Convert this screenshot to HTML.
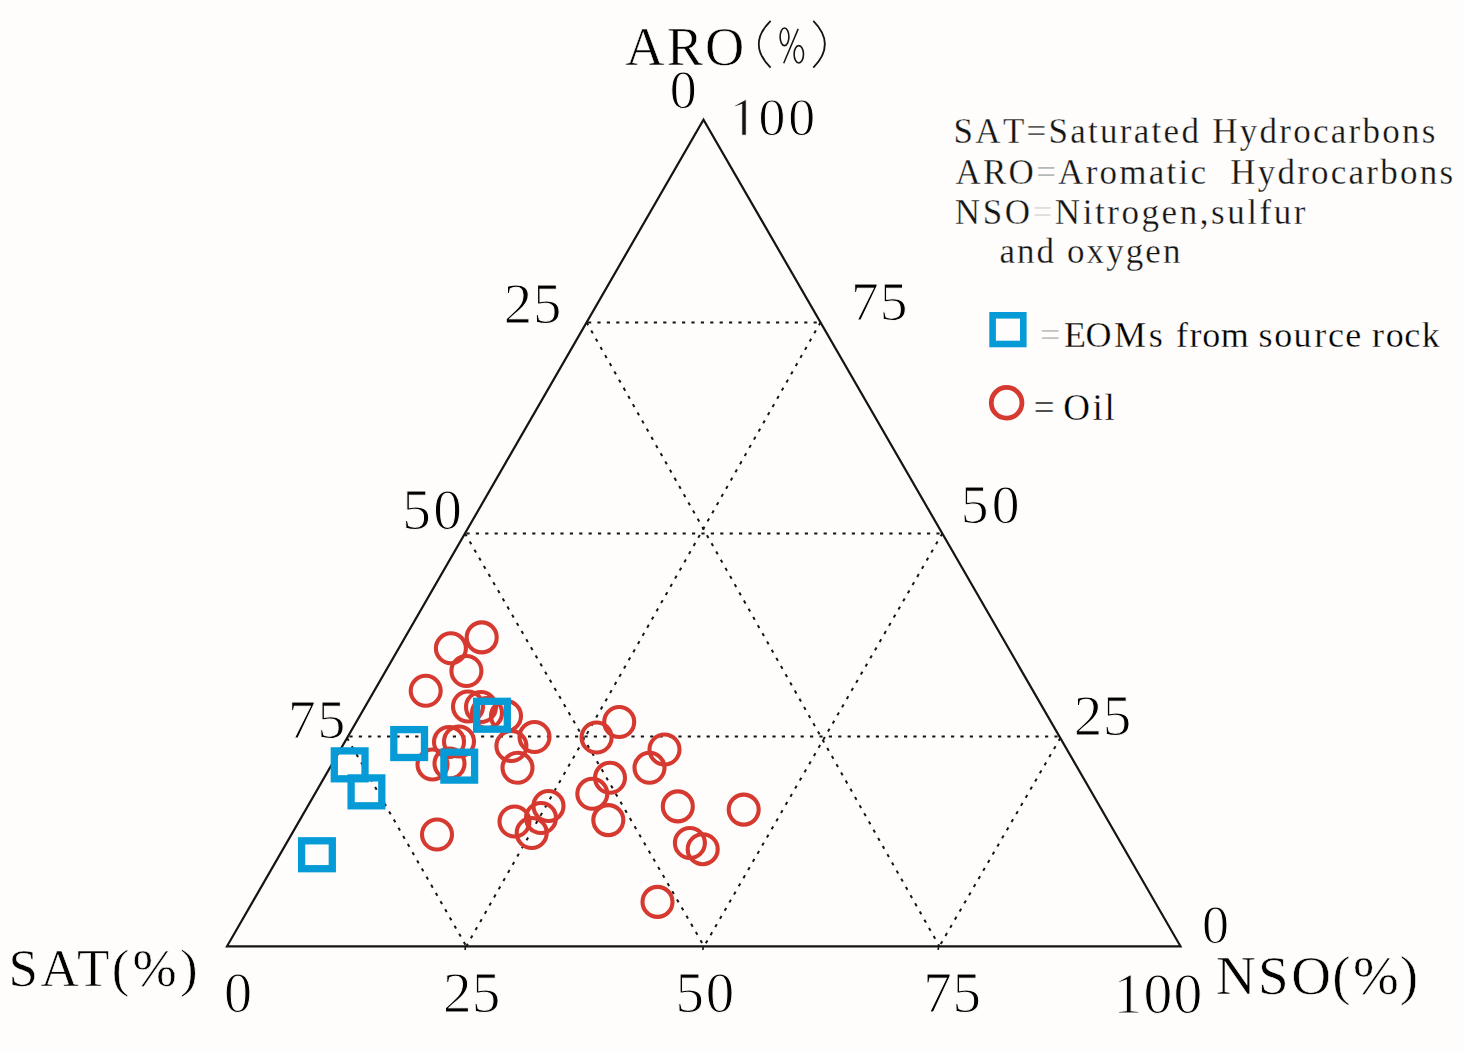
<!DOCTYPE html>
<html><head><meta charset="utf-8"><title>Ternary diagram</title>
<style>
html,body{margin:0;padding:0;background:#fefdfb;}
svg{display:block;}
text{font-family:"Liberation Serif",serif;font-kerning:none;white-space:pre;stroke:#fefdfb;stroke-width:1px;}
</style></head>
<body>
<svg width="1464" height="1052" viewBox="0 0 1464 1052">
<rect width="1464" height="1052" fill="#fefdfb"/>
<line x1="588.0" y1="322.6" x2="819.1" y2="322.6" stroke="#141414" stroke-width="2.0" stroke-dasharray="3.2 6.2" fill="none"/>
<line x1="466.4" y1="533.6" x2="940.9" y2="533.6" stroke="#141414" stroke-width="2.0" stroke-dasharray="3.2 6.2" fill="none"/>
<line x1="349.4" y1="736.6" x2="1058.0" y2="736.6" stroke="#141414" stroke-width="2.0" stroke-dasharray="3.2 6.2" fill="none"/>
<line x1="586.6" y1="322.4" x2="939.4" y2="946.3" stroke="#141414" stroke-width="2.0" stroke-dasharray="3.2 6.2" fill="none"/>
<line x1="465.0" y1="533.4" x2="704.1" y2="946.3" stroke="#141414" stroke-width="2.0" stroke-dasharray="3.2 6.2" fill="none"/>
<line x1="347.1" y1="738.0" x2="466.3" y2="946.3" stroke="#141414" stroke-width="2.0" stroke-dasharray="3.2 6.2" fill="none"/>
<line x1="820.5" y1="322.4" x2="466.3" y2="946.3" stroke="#141414" stroke-width="2.0" stroke-dasharray="3.2 6.2" fill="none"/>
<line x1="942.3" y1="533.4" x2="704.1" y2="946.3" stroke="#141414" stroke-width="2.0" stroke-dasharray="3.2 6.2" fill="none"/>
<line x1="1060.3" y1="738.0" x2="939.4" y2="946.3" stroke="#141414" stroke-width="2.0" stroke-dasharray="3.2 6.2" fill="none"/>
<line x1="465.5" y1="946" x2="465.1" y2="950" stroke="#141414" stroke-width="1.6"/>
<line x1="703.3" y1="946" x2="702.9" y2="950" stroke="#141414" stroke-width="1.6"/>
<line x1="938.6" y1="946" x2="938.2" y2="950" stroke="#141414" stroke-width="1.6"/>
<polygon points="227.0,946.3 1180.5,946.3 703.5,119.6" fill="none" stroke="#141414" stroke-width="2.2" stroke-linejoin="miter"/>
<circle cx="481.7" cy="637.4" r="15.0" fill="none" stroke="#d5392f" stroke-width="4.1"/>
<circle cx="450.9" cy="648.3" r="15.0" fill="none" stroke="#d5392f" stroke-width="4.1"/>
<circle cx="466.4" cy="671.0" r="15.0" fill="none" stroke="#d5392f" stroke-width="4.1"/>
<circle cx="425.7" cy="690.8" r="15.0" fill="none" stroke="#d5392f" stroke-width="4.1"/>
<circle cx="468.0" cy="706.5" r="15.0" fill="none" stroke="#d5392f" stroke-width="4.1"/>
<circle cx="481.0" cy="707.0" r="15.0" fill="none" stroke="#d5392f" stroke-width="4.1"/>
<circle cx="506.0" cy="716.0" r="15.0" fill="none" stroke="#d5392f" stroke-width="4.1"/>
<circle cx="534.5" cy="737.0" r="15.0" fill="none" stroke="#d5392f" stroke-width="4.1"/>
<circle cx="511.4" cy="746.0" r="15.0" fill="none" stroke="#d5392f" stroke-width="4.1"/>
<circle cx="517.5" cy="767.8" r="15.0" fill="none" stroke="#d5392f" stroke-width="4.1"/>
<circle cx="449.0" cy="742.0" r="15.0" fill="none" stroke="#d5392f" stroke-width="4.1"/>
<circle cx="459.0" cy="741.5" r="15.0" fill="none" stroke="#d5392f" stroke-width="4.1"/>
<circle cx="432.5" cy="764.5" r="15.0" fill="none" stroke="#d5392f" stroke-width="4.1"/>
<circle cx="449.5" cy="763.5" r="15.0" fill="none" stroke="#d5392f" stroke-width="4.1"/>
<circle cx="437.0" cy="834.5" r="15.0" fill="none" stroke="#d5392f" stroke-width="4.1"/>
<circle cx="514.5" cy="821.5" r="15.0" fill="none" stroke="#d5392f" stroke-width="4.1"/>
<circle cx="531.7" cy="833.0" r="15.0" fill="none" stroke="#d5392f" stroke-width="4.1"/>
<circle cx="541.0" cy="818.0" r="15.0" fill="none" stroke="#d5392f" stroke-width="4.1"/>
<circle cx="548.5" cy="806.0" r="15.0" fill="none" stroke="#d5392f" stroke-width="4.1"/>
<circle cx="619.2" cy="722.0" r="15.0" fill="none" stroke="#d5392f" stroke-width="4.1"/>
<circle cx="596.6" cy="737.5" r="15.0" fill="none" stroke="#d5392f" stroke-width="4.1"/>
<circle cx="664.5" cy="749.5" r="15.0" fill="none" stroke="#d5392f" stroke-width="4.1"/>
<circle cx="649.5" cy="767.8" r="15.0" fill="none" stroke="#d5392f" stroke-width="4.1"/>
<circle cx="610.0" cy="777.8" r="15.0" fill="none" stroke="#d5392f" stroke-width="4.1"/>
<circle cx="592.3" cy="793.8" r="15.0" fill="none" stroke="#d5392f" stroke-width="4.1"/>
<circle cx="608.3" cy="820.1" r="15.0" fill="none" stroke="#d5392f" stroke-width="4.1"/>
<circle cx="677.8" cy="806.4" r="15.0" fill="none" stroke="#d5392f" stroke-width="4.1"/>
<circle cx="743.7" cy="809.6" r="15.0" fill="none" stroke="#d5392f" stroke-width="4.1"/>
<circle cx="689.9" cy="843.0" r="15.0" fill="none" stroke="#d5392f" stroke-width="4.1"/>
<circle cx="702.7" cy="849.2" r="15.0" fill="none" stroke="#d5392f" stroke-width="4.1"/>
<circle cx="657.5" cy="901.9" r="15.0" fill="none" stroke="#d5392f" stroke-width="4.1"/>
<circle cx="487.0" cy="713.0" r="15.0" fill="none" stroke="#d5392f" stroke-width="4.1"/>
<rect x="476.6" y="701.3" width="30.7" height="27.9" fill="none" stroke="#069bd6" stroke-width="7.3"/>
<rect x="443.9" y="752.2" width="30.7" height="27.9" fill="none" stroke="#069bd6" stroke-width="7.3"/>
<rect x="334.3" y="750.9" width="30.7" height="27.9" fill="none" stroke="#069bd6" stroke-width="7.3"/>
<rect x="351.1" y="777.9" width="30.7" height="27.9" fill="none" stroke="#069bd6" stroke-width="7.3"/>
<rect x="393.8" y="729.6" width="30.7" height="27.9" fill="none" stroke="#069bd6" stroke-width="7.3"/>
<rect x="301.6" y="840.8" width="30.7" height="27.9" fill="none" stroke="#069bd6" stroke-width="7.3"/>
<text x="669.81" y="107.67" font-size="53.94">0</text>
<text x="503.79 532.88" y="323.45" font-size="56.71">25</text>
<text x="851.08 879.68" y="319.76" font-size="55.38">75</text>
<text x="402.17 433.26" y="529.34" font-size="57.35">50</text>
<text x="960.73 991.86" y="523.46" font-size="55.57">50</text>
<text x="288.04 317.39" y="737.56" font-size="55.53">75</text>
<text x="1073.87 1102.66" y="734.94" font-size="57.00">25</text>
<text x="1201.93" y="943.37" font-size="54.09">0</text>
<text x="223.91" y="1012.05" font-size="56.16">0</text>
<text x="442.88 471.77" y="1012.24" font-size="57.15">25</text>
<text x="675.38 705.67" y="1012.24" font-size="56.91">50</text>
<text x="923.18 952.45" y="1011.74" font-size="57.03">75</text>
<text x="1113.59 1143.54 1173.44" y="1012.54" font-size="57.65">100</text>
<text x="758.55 788.25" y="135.27" font-size="53.79">00</text>
<path d="M455 0L627 0L627 1352L575 1352L184 1130L184 1077L455 1174Z" transform="translate(729.80 135.27) scale(0.02627 -0.02627)" fill="#141414" stroke="#fefdfb" stroke-width="38.1"/>
<text x="625.17 666.84 704.98" y="64.77" font-size="54.33" style="stroke-width:0.60px">ARO</text>
<text x="8.38 40.50 77.02 111.76 132.48 179.99" y="986.30" font-size="53.00" style="stroke-width:0.60px">SAT(%)</text>
<text x="1216.03 1257.92 1291.19 1332.32 1352.89 1399.76" y="994.10" font-size="55.00" style="stroke-width:0.60px">NSO(%)</text>
<path d="M770.6 20.8 Q747 44.2 770.6 67.6" stroke="#141414" stroke-width="1.8" fill="none"/>
<path d="M813.3 20.8 Q836.5 44.2 813.3 67.6" stroke="#141414" stroke-width="1.8" fill="none"/>
<ellipse cx="784.5" cy="36.8" rx="4.4" ry="8.8" stroke="#141414" stroke-width="1.6" fill="none"/>
<ellipse cx="798.8" cy="54.3" rx="4.7" ry="8.7" stroke="#141414" stroke-width="1.6" fill="none"/>
<line x1="798.2" y1="28.9" x2="783.7" y2="63.2" stroke="#141414" stroke-width="1.5"/>
<text x="953.61" y="143.00" font-size="35.00" letter-spacing="2.27" fill="#141414"  style="stroke-width:0.30px">SAT=Saturated Hydrocarbons</text>
<text x="955.51" y="184.10" font-size="35.00" letter-spacing="2.24" fill="#141414"  style="stroke-width:0.30px">ARO<tspan fill="#9a9a9a">=</tspan>Aromatic&#160; Hydrocarbons</text>
<text x="954.84" y="223.50" font-size="35.00" letter-spacing="2.56" fill="#141414"  style="stroke-width:0.30px">NSO<tspan fill="#d0d0d0">=</tspan>Nitrogen,sulfur</text>
<text x="999.42" y="262.80" font-size="35.00" letter-spacing="2.08" fill="#141414"  style="stroke-width:0.30px">and oxygen</text>
<rect x="992.6" y="315.3" width="30.7" height="28.7" fill="none" stroke="#069bd6" stroke-width="6.6"/>
<text x="1039.88" y="347.30" font-size="36.00" style="stroke-width:0.30px" fill="#a8a8a8">=</text>
<text x="1063.88 1085.50 1114.05 1148.81 1175.90 1189.55 1202.35 1220.75 1258.41 1274.25 1293.42 1314.35 1327.98 1345.33 1372.05 1385.70 1404.33 1421.76" y="347.30" font-size="36.00" style="stroke-width:0.30px">EOMsfromsourcerock</text>
<circle cx="1006.6" cy="402.8" r="15.35" fill="none" stroke="#d5392f" stroke-width="4.8"/>
<text x="1033.85 1063.19 1092.62 1104.46" y="420.30" font-size="37.00" style="stroke-width:0.30px">=Oil</text>
</svg>
</body></html>
